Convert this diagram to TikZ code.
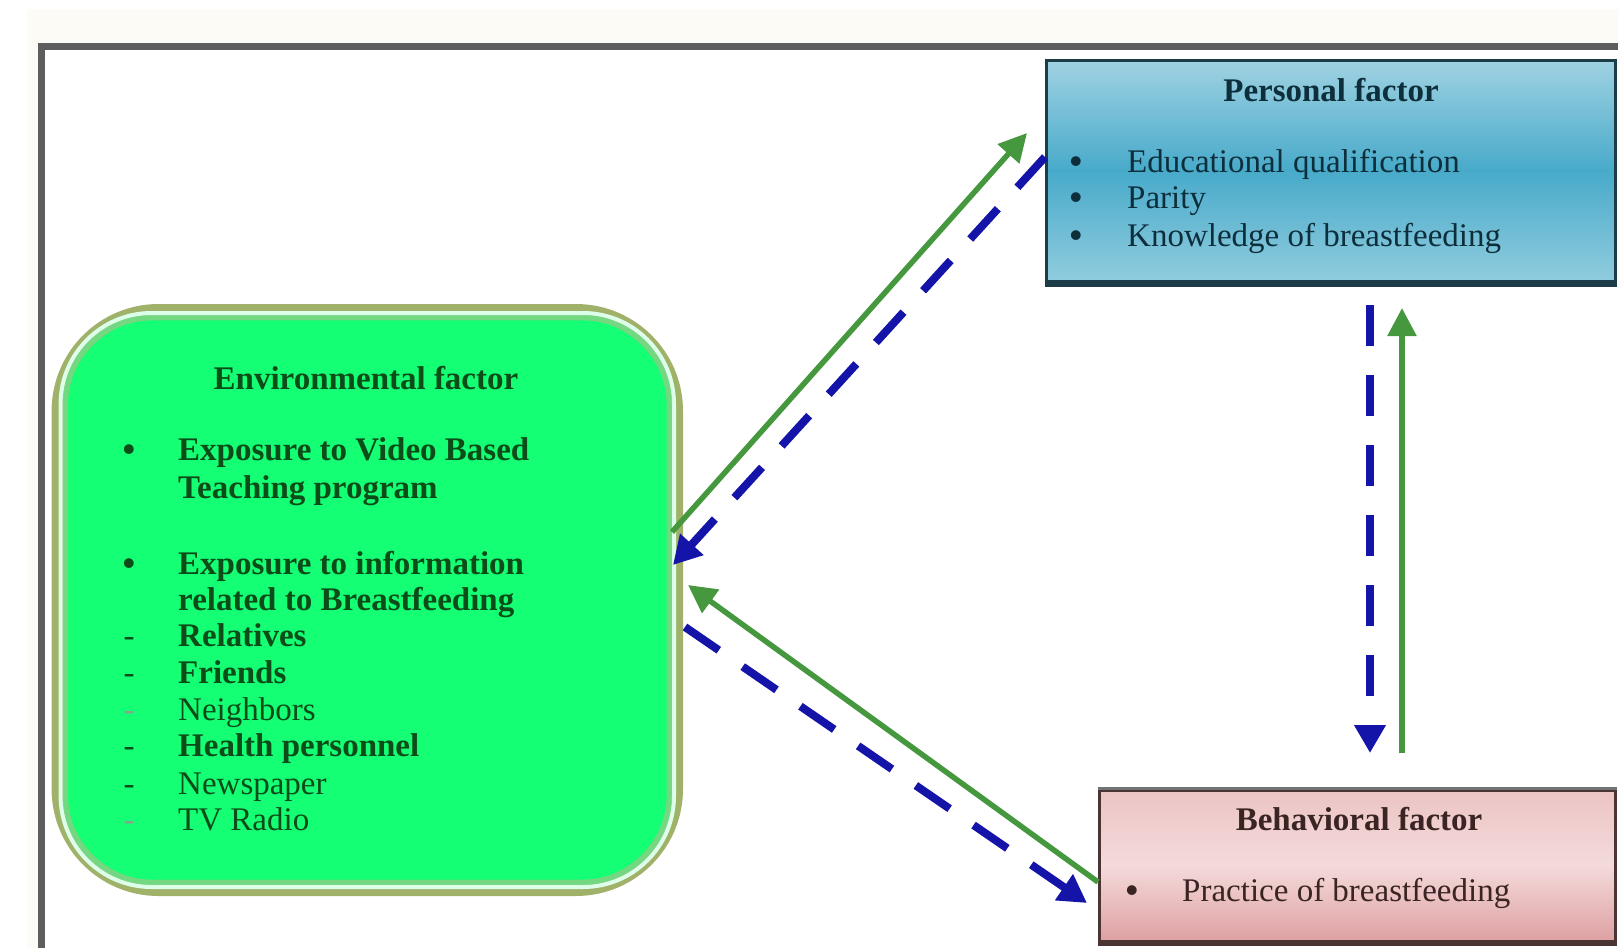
\documentclass[tikz,border=0pt]{standalone}
\usepackage{fontspec}
\setmainfont{Liberation Serif}
\usetikzlibrary{arrows.meta,calc}
\definecolor{framegray}{HTML}{5E5E5E}
\definecolor{offwhite}{HTML}{FDFBF5}
\definecolor{envgreen}{HTML}{14FF74}
\definecolor{envolive}{HTML}{A0B26A}
\definecolor{envinner}{HTML}{74D882}
\definecolor{envtext}{HTML}{0C4C18}
\definecolor{persborder}{HTML}{1C3C48}
\definecolor{perstext}{HTML}{0D2F3C}
\definecolor{behborder}{HTML}{4A3434}
\definecolor{behtext}{HTML}{3A2424}
\definecolor{arrgreen}{HTML}{46983F}
\definecolor{arrblue}{HTML}{1414A8}
\begin{document}
\begin{tikzpicture}[x=1pt,y=-1pt,
  txt/.style={anchor=base west, inner sep=0pt, font=\fontsize{33}{37}\selectfont},
  btxt/.style={anchor=base west, inner sep=0pt, font=\fontsize{33}{37}\selectfont\bfseries},
  ctxt/.style={anchor=base, inner sep=0pt, font=\fontsize{33}{37}\selectfont},
  bul/.style={anchor=base, inner sep=0pt, font=\fontsize{36}{36}\selectfont\bfseries},
  greenarrow/.style={draw=arrgreen, line width=5.5pt, -{Triangle[length=28pt,width=28pt]}},
  bluearrow/.style={draw=arrblue, line width=8pt, dash pattern=on 41pt off 29pt, -{Triangle[length=28pt,width=30pt]}},
  box/.style={rectangle, inner sep=0pt}
]
\useasboundingbox (0,0) rectangle (1618,948);
% background and frame
\fill[offwhite] (27,9) rectangle (1618,43);
\fill[offwhite] (27,43) rectangle (38,948);
\draw[framegray, line width=7pt] (38,46.5) -- (1618,46.5);
\draw[framegray, line width=7pt] (41.5,43) -- (41.5,948);

% Environmental box
\node (env) [box, draw=envolive, line width=14pt, fill=envgreen, rounded corners=100pt,
  minimum width=617.4pt, minimum height=578pt] at (367.3,600) {};
\draw[envinner, line width=5.4pt, rounded corners=87pt]
  ($(env.north west)+(13.7,13.7)$) rectangle ($(env.south east)+(-13.7,-13.7)$);
\draw[white!85!envgreen, line width=4pt, rounded corners=91pt]
  ($(env.north west)+(9,9)$) rectangle ($(env.south east)+(-9,-9)$);

\begin{scope}[envtext]
\node (envt) [ctxt, font=\fontsize{33}{37}\selectfont\bfseries] at (366,389) {Environmental factor};
\node (eb1) [bul] at (129,461) {•};
\node (e1) [btxt] at (178,460) {Exposure to Video Based};
\node (e2) [btxt] at (178,498) {Teaching program};
\node (eb2) [bul] at (129,575) {•};
\node (e3) [btxt] at (178,574) {Exposure to information};
\node (e4) [btxt] at (178,610) {related to Breastfeeding};
\node (ed1) [ctxt] at (129,646) {-};
\node (e5) [btxt] at (178,646) {Relatives};
\node (ed2) [ctxt] at (129,683) {-};
\node (e6) [btxt] at (178,683) {Friends};
\node (ed3) [ctxt, text=envtext!50] at (129,720) {-};
\node (e7) [txt] at (178,720) {Neighbors};
\node (ed4) [ctxt] at (129,756) {-};
\node (e8) [btxt] at (178,756) {Health personnel};
\node (ed5) [ctxt] at (129,794) {-};
\node (e9) [txt] at (178,794) {Newspaper};
\node (ed6) [ctxt, text=envtext!50] at (129,830) {-};
\node (e10) [txt] at (178,830) {TV Radio};
\end{scope}

% Personal box
\node (pers) [box, draw=persborder, line width=3pt, shading=axis,
  top color={rgb,255:red,160;green,210;blue,226},
  bottom color={rgb,255:red,144;green,204;blue,222},
  middle color={rgb,255:red,72;green,170;blue,202},
  minimum width=569pt, minimum height=221pt] at (1330.5,170.5) {};
\draw[persborder, line width=6pt] ($(pers.south west)+(0,1)$) -- ($(pers.south east)+(0,1)$);
\begin{scope}[perstext]
\node (pt) [ctxt, font=\fontsize{33}{37}\selectfont\bfseries] at (1331,101) {Personal factor};
\node (pb1) [bul] at (1076,173) {•};
\node (p1) [txt] at (1127,172) {Educational qualification};
\node (pb2) [bul] at (1076,209) {•};
\node (p2) [txt] at (1127,208) {Parity};
\node (pb3) [bul] at (1076,247) {•};
\node (p3) [txt] at (1127,246) {Knowledge of breastfeeding};
\end{scope}

% Behavioral box
\node (beh) [box, draw=behborder, line width=3pt, shading=axis,
  top color={rgb,255:red,236;green,196;blue,196},
  bottom color={rgb,255:red,222;green,160;blue,162},
  middle color={rgb,255:red,244;green,218;blue,218},
  minimum width=516pt, minimum height=151pt] at (1357,865.5) {};
\draw[black!55, line width=3pt] (beh.north west) -- (beh.north east);
\draw[behborder, line width=5pt] ($(beh.south west)+(0,1)$) -- ($(beh.south east)+(0,1)$);
\begin{scope}[behtext]
\node (bt) [ctxt, font=\fontsize{33}{37}\selectfont\bfseries] at (1359,830) {Behavioral factor};
\node (bb1) [bul] at (1132,902) {•};
\node (b1) [txt] at (1182,901) {Practice of breastfeeding};
\end{scope}

% connector end points
\coordinate (g1s) at (672,532);
\coordinate (g1e) at (1027,133);
\coordinate (b1s) at (1045,157);
\coordinate (b1e) at (673,565);
\coordinate (g2s) at (1098,882);
\coordinate (g2e) at (688,585);
\coordinate (b2s) at (685,627);
\coordinate (b2e) at (1087,903);
\coordinate (b3s) at (1370,305);
\coordinate (b3e) at (1370,753);
\coordinate (g3s) at (1402,753);
\coordinate (g3e) at (1402,308);

\draw[greenarrow] (g1s) -- (g1e);
\draw[bluearrow] (b1s) -- (b1e);
\draw[greenarrow] (g2s) -- (g2e);
\draw[bluearrow] (b2s) -- (b2e);
\draw[bluearrow] (b3s) -- (b3e);
\draw[greenarrow] (g3s) -- (g3e);
\end{tikzpicture}
\end{document}
